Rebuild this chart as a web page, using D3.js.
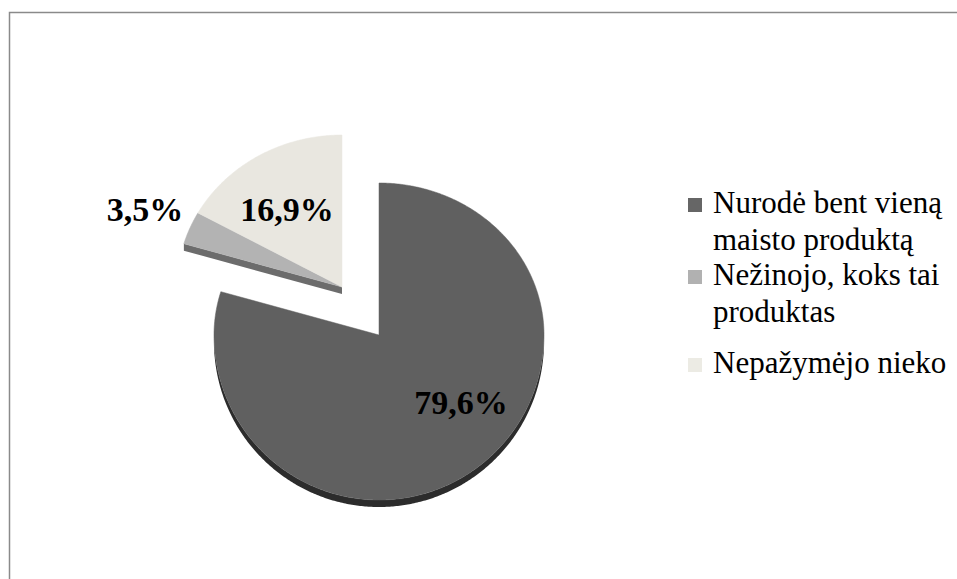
<!DOCTYPE html>
<html><head><meta charset="utf-8">
<script src="https://cdn.jsdelivr.net/npm/d3@7"></script>
<style>html,body{margin:0;padding:0;background:#fff;}svg{display:block;}</style>
</head><body>
<svg id="chart" width="957" height="579"></svg>
<script>
const categories = ["Nurodė bent vieną maisto produktą", "Nežinojo, koks tai produktas", "Nepažymėjo nieko"];
const legendLines = [["Nurodė bent vieną", "maisto produktą"], ["Nežinojo, koks tai", "produktas"], ["Nepažymėjo nieko"]];
const values = [79.6, 3.5, 16.9];
const valueLabels = ["79,6%", "3,5%", "16,9%"];
const exploded = [false, true, true];

const topColors = ["#606060", "#b3b3b3", "#e9e7e0"];
const sideColors = ["#2c2c2c", "#6c6c6c", "#a9a79f"];
const legendColors = ["#666666", "#b1b1b1", "#ecebe4"];

const svg = d3.select("#chart");
svg.append("rect").attr("x", 9.5).attr("y", 12.5).attr("width", 1200).attr("height", 1200)
  .attr("fill", "#fff").attr("stroke", "#8a8a8a").attr("stroke-width", 1.5);

const CX = 379, CY = 335, RX = 165, RYT = 152, RYB = 165, T = 7;
const EXPLODE = {dx: -37, dy: -48};

const pie = d3.pie().sort(null).value(d => d).startAngle(0).endAngle(2 * Math.PI);
const arcs = pie(values);

function proj(a, r, cx, cy, dz) {
  const c = Math.cos(a);
  return [cx + r * RX * Math.sin(a), cy - r * (c >= 0 ? RYT : RYB) * c + dz];
}
function arcPts(a0, a1, cx, cy, dz) {
  const n = Math.max(2, Math.ceil((a1 - a0) / 0.01));
  const pts = [];
  for (let i = 0; i <= n; i++) pts.push(proj(a0 + (a1 - a0) * i / n, 1, cx, cy, dz));
  return pts;
}
const line = d3.line();

const order = d3.range(arcs.length).sort((a, b) => (exploded[b] ? 1 : 0) - (exploded[a] ? 1 : 0));
const g = svg.append("g");
order.forEach(i => {
  const d = arcs[i];
  const cx = CX + (exploded[i] ? EXPLODE.dx : 0);
  const cy = CY + (exploded[i] ? EXPLODE.dy : 0);
  const prev = (i - 1 + arcs.length) % arcs.length;
  // cut face at start angle, only where the neighbour is separated
  const fNormal = d.startAngle - Math.PI / 2;
  if (exploded[prev] !== exploded[i] && Math.cos(fNormal) < -0.05) {
    const p = proj(d.startAngle, 1, cx, cy, 0);
    g.append("path").attr("d", line([[cx, cy], p, [p[0], p[1] + T], [cx, cy + T]]) + "Z")
      .attr("fill", sideColors[i]);
  }
  const r0 = Math.max(d.startAngle, Math.PI / 2), r1 = Math.min(d.endAngle, 3 * Math.PI / 2);
  if (r1 > r0) {
    const topPts = arcPts(r0, r1, cx, cy, 0);
    const botPts = arcPts(r0, r1, cx, cy, T).reverse();
    g.append("path").attr("d", line(topPts.concat(botPts)) + "Z").attr("fill", sideColors[i]);
  }
  const pts = [[cx, cy]].concat(arcPts(d.startAngle, d.endAngle, cx, cy, 0));
  g.append("path").attr("d", line(pts) + "Z").attr("fill", topColors[i])
    .attr("stroke", topColors[i]).attr("stroke-width", 0.5);
});

const labelPos = [[461, 414], [145, 221], [287, 221]];
svg.append("g").selectAll("text").data(arcs).join("text")
  .attr("x", (d, i) => labelPos[i][0]).attr("y", (d, i) => labelPos[i][1])
  .attr("text-anchor", "middle")
  .attr("font-family", "'Liberation Serif', serif").attr("font-weight", "bold")
  .attr("font-size", 34).attr("fill", "#000")
  .text((d, i) => valueLabels[i]);

const legendY = [213, 285, 373];
const lg = svg.append("g");
categories.forEach((c, i) => {
  lg.append("rect").attr("x", 688).attr("y", legendY[i] - 15).attr("width", 14).attr("height", 14)
    .attr("fill", legendColors[i]);
  const t = lg.append("text").attr("x", 713).attr("y", legendY[i])
    .attr("font-family", "'Liberation Serif', serif").attr("font-size", 31).attr("fill", "#000");
  legendLines[i].forEach((l, j) => t.append("tspan").attr("x", 713).attr("dy", j === 0 ? 0 : 36.5).text(l));
});
</script>
</body></html>
